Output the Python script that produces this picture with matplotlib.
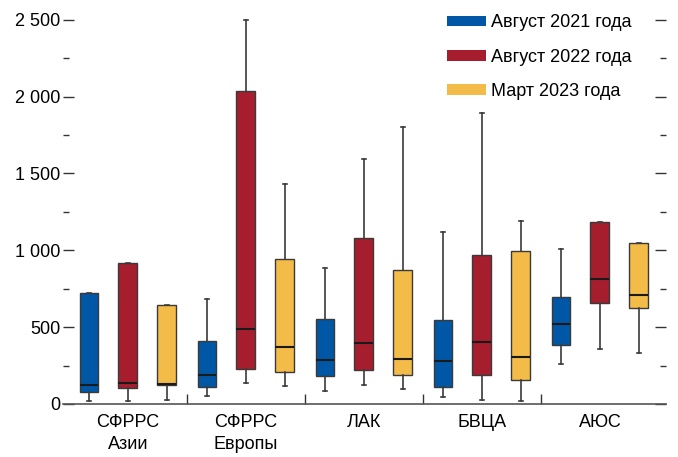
import numpy as np
import matplotlib.pyplot as plt
from matplotlib.patches import Patch
from matplotlib.ticker import FuncFormatter, MultipleLocator

plt.rcParams['font.family'] = ['Liberation Sans', 'DejaVu Sans']

regions = ['СФРРС\nАзии', 'СФРРС\nЕвропы', 'ЛАК', 'БВЦА', 'АЮС']
periods = ['Август 2021 года', 'Август 2022 года', 'Март 2023 года']
colors = ['#0057a6', '#a61e2e', '#f3bb48']

# whisker low, q1, median, q3, whisker high per region
aug21 = [
    [21, 80, 121, 720, 720],
    [50, 112, 188, 407, 686],
    [86, 184, 286, 550, 883],
    [43, 108, 279, 548, 1119],
    [262, 381, 519, 695, 1006],
]
aug22 = [
    [19, 102, 138, 914, 914],
    [138, 225, 489, 2039, 2500],
    [123, 219, 400, 1078, 1591],
    [26, 188, 403, 968, 1890],
    [355, 656, 812, 1186, 1186],
]
mar23 = [
    [26, 121, 132, 643, 643],
    [119, 210, 370, 940, 1429],
    [97, 188, 292, 872, 1805],
    [19, 156, 307, 994, 1188],
    [331, 626, 710, 1050, 1050],
]

fig = plt.figure(figsize=(6.78, 4.57), dpi=100)
ax = fig.add_axes([0.0929, 0.116, 0.8894, 0.851])

x = np.arange(len(regions))
offsets = [-0.33, 0.0, 0.33]
for series, off, col in zip([aug21, aug22, mar23], offsets, colors):
    stats = [dict(whislo=s[0], q1=s[1], med=s[2], q3=s[3], whishi=s[4]) for s in series]
    ax.bxp(stats, positions=x + off, widths=0.16, showfliers=False,
           patch_artist=True, capwidths=0.035,
           boxprops=dict(facecolor=col, edgecolor='#3a3a3a', linewidth=1),
           medianprops=dict(color='#1a1a1a', linewidth=1.5),
           whiskerprops=dict(color='#3a3a3a', linewidth=1.2),
           capprops=dict(color='#3a3a3a', linewidth=1.2))

ax.set_xlim(-0.55, 4.56)
ax.set_ylim(0, 2530)

for side in ['top', 'left', 'right']:
    ax.spines[side].set_visible(False)
ax.spines['bottom'].set_color('#555555')
ax.spines['bottom'].set_linewidth(1.2)

ax.yaxis.set_major_locator(MultipleLocator(500))
ax.yaxis.set_minor_locator(MultipleLocator(250))
ax.yaxis.set_major_formatter(FuncFormatter(lambda v, p: f'{int(v):,}'.replace(',', '\u00a0')))
ax.tick_params(axis='y', which='major', direction='in', length=8, width=1,
               color='#333333', labelsize=13, pad=2, right=True, labelright=False)
ax.tick_params(axis='y', which='minor', direction='in', length=4, width=1,
               color='#333333', right=True)

ax.set_xticks(x)
ax.set_xticklabels(regions, linespacing=1.4)
ax.set_xticks(x[:-1] + 0.5, minor=True)
ax.tick_params(axis='x', which='major', length=0, labelsize=13, pad=7)
ax.tick_params(axis='x', which='minor', direction='in', length=7, width=1, color='#333333')

handles = [Patch(facecolor=c, edgecolor='none') for c in colors]
fig.legend(handles, periods, loc='upper left', bbox_to_anchor=(0.636, 1.004),
           frameon=False, fontsize=13, handlelength=2.15, handleheight=0.55,
           handletextpad=0.25, labelspacing=0.95)

fig.savefig('out.png', dpi=100)
